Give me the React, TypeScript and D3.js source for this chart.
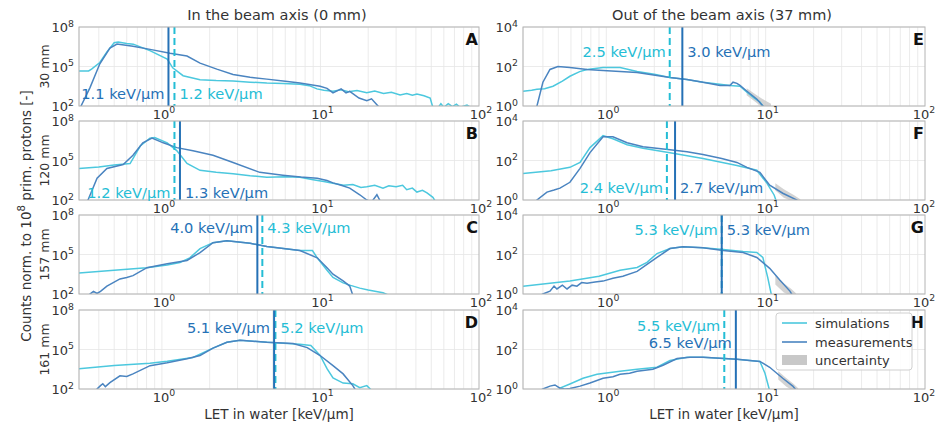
import React from "react";
import * as d3 from "d3";

type Pt = [number, number];
type Band = [number, number, number];

// ---- data -------------------------------------------------------------
// LET in keV/µm, counts normalised to 1e8 primary protons

const panelLetters = ["A", "B", "C", "D", "E", "F", "G", "H"];
const depthLabels = ["30 mm", "120 mm", "157 mm", "161 mm"];
const columnTitles = ["In the beam axis (0 mm)", "Out of the beam axis (37 mm)"];

const meanSimulated = [1.2, 1.2, 4.3, 5.2, 2.5, 2.4, 5.3, 5.5];
const meanMeasured = [1.1, 1.3, 4.0, 5.1, 3.0, 2.7, 5.3, 6.5];

const letDomain: [number, number] = [0.3, 100];
const xTickValues = [1, 10, 100];
const xTickExponents = ["0", "1", "2"];
const yDomainIn: [number, number] = [1e2, 1e8];
const yDomainOut: [number, number] = [1, 1e4];
const yTicksIn = [1e2, 1e5, 1e8];
const yTickExpIn = ["2", "5", "8"];
const yTicksOut = [1, 1e2, 1e4];
const yTickExpOut = ["0", "2", "4"];

const simA: Pt[] = [
  [0.3, 4.6e4], [0.345, 4.6e4], [0.36, 6.3e4], [0.406, 2.0e5], [0.45, 1.3e6], [0.5, 6.3e6],
  [0.53, 7.1e6], [0.6, 5.6e6], [0.66, 5.0e6], [0.84, 1.6e6], [1.08, 3.7e5], [1.17, 8.0e4],
  [1.36, 2.0e4], [1.74, 1.0e4], [2.2, 8.5e3], [2.81, 7.9e3], [3.6, 6.5e3], [4.59, 5.6e3],
  [5.8, 5.2e3], [7.42, 4.5e3], [8.5, 3.5e3], [9.5, 2.0e3], [10.5, 1.6e3], [12.0, 1.3e3],
  [13.5, 1.7e3], [15, 1.2e3], [17, 1.5e3], [19.6, 1.0e3], [22, 1.4e3], [25, 900], [28, 1.1e3],
  [31.8, 700], [35, 900], [38, 650], [40.6, 800], [45, 600], [49.2, 400], [51, 90], [55, 70],
  [57.5, 150], [60, 80], [64, 150], [68, 90], [72, 140], [76, 80], [84, 120], [90, 70],
];
const measA: Pt[] = [
  [0.303, 40], [0.309, 100], [0.352, 2.5e3], [0.406, 1.6e5], [0.47, 2.5e6], [0.521, 5.0e6],
  [0.657, 3.5e6], [0.842, 2.0e6], [1.125, 1.0e6], [1.44, 6.3e5], [1.74, 1.8e5], [2.22, 6.3e4],
  [2.81, 2.5e4], [3.6, 1.5e4], [4.59, 1.1e4], [6.0, 7.5e3], [7.42, 5.6e3], [9.95, 3.2e3],
  [11.0, 2.2e3], [12.0, 1.0e3], [13.5, 2.0e3], [14.5, 1.0e3], [15.3, 1.3e3], [17.5, 400],
  [19.6, 250], [21, 350], [23.7, 70],
];
const simB: Pt[] = [
  [0.3, 2.5e4], [0.4, 3.2e4], [0.5, 4.5e4], [0.63, 5.9e4], [0.73, 1.26e6], [0.84, 5.0e6],
  [0.9, 5.6e6], [1.08, 2.2e6], [1.24, 5.6e5], [1.44, 5.9e4], [1.74, 1.8e4], [2.2, 1.3e4],
  [2.81, 1.0e4], [3.6, 7.0e3], [4.59, 5.4e3], [6, 5.8e3], [7.42, 5.4e3], [9, 3.5e3],
  [10.5, 2.5e3], [12.0, 1.9e3], [14, 1.3e3], [16, 1.5e3], [18, 900], [19.6, 1.0e3],
  [22, 1.3e3], [24.8, 800], [27, 1.2e3], [30, 1.0e3], [33, 1.3e3], [35, 600], [38, 800],
  [40.6, 400], [44, 550], [47, 350], [51.2, 160], [53, 80],
];
const measB: Pt[] = [
  [0.33, 50], [0.342, 100], [0.39, 4.5e3], [0.45, 2.5e4], [0.57, 5.0e4], [0.657, 2.5e5],
  [0.758, 2.2e6], [0.866, 5.0e6], [1.02, 2.2e6], [1.24, 9.5e5], [1.57, 5.6e5], [2.1, 2.5e5],
  [2.81, 7.1e4], [4.14, 1.26e4], [5.79, 7.6e3], [7.5, 5.5e3], [9.54, 4.5e3], [11, 3.0e3],
  [12.0, 2.0e3], [13.5, 1.3e3], [15.3, 800], [17.7, 250], [19.6, 100], [21, 70], [22.7, 250],
  [24, 70],
];
const simC: Pt[] = [
  [0.3, 4.0e3], [0.5, 6.5e3], [0.8, 1.0e4], [1.08, 1.6e4], [1.3, 2.5e4], [1.5, 5.6e4],
  [1.74, 2.8e5], [2.1, 7.9e5], [2.57, 1.1e6], [3.6, 7.1e5], [4.59, 4.0e5], [7.42, 2.0e5],
  [8.9, 2.0e5], [9.54, 5.6e4], [11.0, 6.3e3], [12.0, 1.8e3], [13.9, 700], [15.5, 450],
  [17.7, 280], [20, 200], [24.8, 125], [26.5, 90],
];
const measC: Pt[] = [
  [0.345, 60], [0.352, 100], [0.37, 160], [0.39, 110], [0.41, 160], [0.45, 400],
  [0.544, 1.4e3], [0.6, 1.8e3], [0.657, 2.5e3], [0.805, 1.0e4], [1.08, 2.0e4], [1.44, 3.5e4],
  [1.74, 1.4e5], [2.1, 7.9e5], [2.57, 1.1e6], [3.6, 7.1e5], [4.59, 4.0e5], [7.42, 2.0e5],
  [9.54, 5.6e4], [11.0, 1.0e4], [12.0, 3.2e3], [13.9, 1.0e3], [15.3, 400], [16.0, 80],
];
const simD: Pt[] = [
  [0.3, 3.5e3], [0.5, 6.0e3], [0.84, 9.0e3], [1.08, 1.3e4], [1.57, 2.5e4], [2.1, 1.26e5],
  [2.57, 3.5e5], [3.11, 5.0e5], [4.59, 3.5e5], [7.42, 2.5e5], [8.7, 2.0e5], [9.95, 3.5e4],
  [11.0, 3.5e3], [12.0, 700], [13.9, 280], [16.0, 250], [17.7, 125], [19.6, 180], [21, 80],
];
const measD: Pt[] = [
  [0.385, 70], [0.39, 100], [0.41, 180], [0.424, 250], [0.44, 150], [0.47, 300],
  [0.544, 1.0e3], [0.6, 900], [0.657, 1.4e3], [0.842, 5.9e3], [1.08, 1.0e4], [1.44, 2.0e4],
  [1.74, 3.5e4], [2.1, 1.26e5], [2.57, 3.5e5], [3.11, 5.0e5], [4.59, 3.5e5], [6.72, 2.8e5],
  [8.25, 1.4e5], [9.95, 3.5e4], [12.0, 5.9e3], [13.9, 1.4e3], [16.0, 180], [16.8, 70],
];
const simE: Pt[] = [
  [0.3, 5.6], [0.34, 6.3], [0.367, 7.1], [0.41, 7.5], [0.463, 10], [0.53, 18], [0.591, 32],
  [0.68, 55], [0.757, 71], [0.954, 89], [1.22, 89], [1.56, 56], [2.0, 40], [2.51, 28],
  [3.2, 22], [4.04, 16], [5.0, 13], [5.97, 11], [6.9, 10], [7.63, 5.0], [8.5, 2.5], [9.2, 1.6],
  [9.8, 0.8],
];
const measE: Pt[] = [
  [0.36, 0.8], [0.367, 1], [0.4, 16], [0.443, 71], [0.497, 100], [0.591, 89], [0.757, 71],
  [0.954, 63], [1.56, 50], [2.51, 28], [3.21, 22], [4.04, 16], [5.17, 11], [5.97, 11],
  [6.24, 16], [6.6, 14], [6.9, 11], [7.63, 5.6], [8.82, 2.2], [9.61, 1.0], [10, 0.8],
];
const simF: Pt[] = [
  [0.3, 22], [0.45, 30], [0.591, 45], [0.684, 80], [0.79, 450], [0.954, 1800], [1.1, 1260],
  [1.35, 630], [1.7, 420], [2.51, 250], [4.04, 126], [6.6, 56], [8.8, 32], [10.2, 7],
  [11.3, 1.8], [11.7, 0.8],
];
const measF: Pt[] = [
  [0.36, 0.8], [0.367, 1], [0.424, 2.5], [0.47, 3.2], [0.512, 4.0], [0.591, 7.9], [0.684, 40],
  [0.79, 250], [0.954, 1600], [1.1, 1600], [1.35, 800], [1.7, 500], [2.51, 355], [3.21, 280],
  [4.04, 200], [5.3, 125], [6.6, 80], [7.63, 45], [9.2, 25], [10.6, 5.6], [12.8, 2.2],
  [15.7, 1], [16, 0.8],
];
const simG: Pt[] = [
  [0.3, 2.5], [0.591, 4.5], [0.9, 8], [1.22, 16], [1.56, 22], [1.8, 40], [2.08, 112],
  [2.51, 200], [3.03, 250], [4.04, 220], [5.41, 180], [7.22, 140], [8.8, 126], [9.6, 71],
  [10.3, 7], [10.9, 0.8],
];
const measG: Pt[] = [
  [0.38, 0.8], [0.4, 1], [0.443, 1.4], [0.47, 2.5], [0.49, 1.8], [0.53, 2.8], [0.567, 1.8],
  [0.61, 2.8], [0.654, 2.5], [0.7, 3.8], [0.757, 3.5], [0.85, 4.0], [0.954, 4.5], [1.1, 6.3],
  [1.27, 7.9], [1.56, 14], [1.8, 32], [2.08, 71], [2.51, 200], [3.03, 250], [4.04, 220],
  [5.41, 160], [7.22, 126], [8.8, 71], [10.6, 20], [12.3, 5], [14.2, 1.4], [14.8, 0.8],
];
const simH: Pt[] = [
  [0.5, 0.8], [0.512, 1.1], [0.591, 1.8], [0.714, 3.5], [0.874, 5.6], [1.22, 7.9], [1.56, 10],
  [2.08, 12.6], [2.51, 28], [3.21, 40], [4.04, 40], [6.6, 32], [9.2, 25], [9.9, 6.3],
  [10.6, 0.8],
];
const measH: Pt[] = [
  [0.38, 0.8], [0.4, 1], [0.443, 1.4], [0.476, 1.6], [0.512, 1.1], [0.55, 1], [0.591, 1.05],
  [0.684, 1.4], [0.79, 2.0], [0.954, 3.5], [1.1, 4.2], [1.22, 5.6], [1.4, 6.3], [1.56, 7.9],
  [1.96, 10], [2.27, 16], [2.78, 35], [3.35, 40], [4.04, 40], [6.6, 32], [9.2, 25],
  [10.6, 12.6], [12.8, 3.5], [14.8, 1.4], [15.7, 0.8],
];

// measurement uncertainty: [LET, lower, upper]
const bandE: Band[] = [[7.6, 3.5, 8], [8.8, 1.4, 3.5], [9.8, 0.7, 2.0], [10.8, 0.7, 1.3]];
const bandF: Band[] = [[11.5, 3.0, 7], [13, 1.3, 3.5], [15, 0.8, 1.8], [16.5, 0.8, 1.1]];
const bandG: Band[] = [[11.5, 3.0, 9], [13, 1.2, 3.5], [14.5, 0.8, 1.8], [15.5, 0.8, 1.1]];
const bandH: Band[] = [[12, 3.0, 8], [13.5, 1.3, 3.5], [15, 0.8, 1.8], [16, 0.8, 1.1]];

const simulations = [simA, simB, simC, simD, simE, simF, simG, simH];
const measurements = [measA, measB, measC, measD, measE, measF, measG, measH];
const uncertainties: Band[][] = [[], [], [], [], bandE, bandF, bandG, bandH];

// ---- layout & style -----------------------------------------------------
const W = 936;
const H = 423;
const FONT = "DejaVu Sans, Verdana, sans-serif";
const colX: [number, number][] = [[79, 479], [523, 925]];
const rowTop = [27, 121, 215, 310];
const rowH = 79;

const SIM_LINE = "#4cc8de";
const MEAS_LINE = "#4a84c0";
const SIM_MEAN = "#24bdd5";
const MEAS_MEAN = "#2571b6";
const GRID = "#e6e6e6";
const FRAME = "#b4b4b4";
const TEXT = "#333333";
const LABEL_SIZE = 14.6;
const TICK_SIZE = 13;

type Side = "left" | "right";
const labelLayout: { sim: [Side, number]; meas: [Side, number] }[] = [
  { sim: ["right", 72], meas: ["left", 72] },
  { sim: ["left", 77], meas: ["right", 77] },
  { sim: ["right", 18], meas: ["left", 18] },
  { sim: ["right", 23], meas: ["left", 23] },
  { sim: ["left", 30], meas: ["right", 30] },
  { sim: ["left", 72], meas: ["right", 72] },
  { sim: ["left", 20], meas: ["right", 20] },
  { sim: ["left", 21], meas: ["left", 38] },
];

function Pow({ x, y, exp, anchor, size }: { x: number; y: number; exp: string; anchor: string; size: number }) {
  return (
    <text x={x} y={y} textAnchor={anchor} fontSize={size} fontFamily={FONT} fill={TEXT}>
      10
      <tspan dy={-size * 0.42} fontSize={size * 0.72}>{exp}</tspan>
    </text>
  );
}

function Panel({ idx }: { idx: number }) {
  const col = idx < 4 ? 0 : 1;
  const row = idx % 4;
  const top = rowTop[row];
  const bottom = top + rowH;
  const [x0, x1] = colX[col];
  const x = d3.scaleLog().domain(letDomain).range([x0, x1]);
  const y = d3.scaleLog().domain(col === 0 ? yDomainIn : yDomainOut).range([bottom, top]);
  const yTicks = col === 0 ? yTicksIn : yTicksOut;
  const yExp = col === 0 ? yTickExpIn : yTickExpOut;

  const line = d3.line<Pt>().x((d) => x(d[0])).y((d) => y(d[1]));
  const area = d3.area<Band>().x((d) => x(d[0])).y0((d) => y(d[1])).y1((d) => y(d[2]));

  const minor: number[] = [];
  [0.1, 1, 10].forEach((dec) => {
    for (let k = 1; k <= 9; k++) {
      const v = k * dec;
      if (v > letDomain[0] && v < letDomain[1]) minor.push(v);
    }
  });

  const clipId = `clip-${idx}`;
  const xs = x(meanSimulated[idx]);
  const xm = x(meanMeasured[idx]);
  const lay = labelLayout[idx];
  const labelX = (side: Side, lx: number) => (side === "left" ? lx - 4 : lx + 5);
  const fmt = (v: number) => `${v.toFixed(1)} keV/µm`;
  // keep the outermost tick label inside the canvas
  const tickX = (v: number) => Math.min(x(v) + 2, W - 12);

  return (
    <g>
      <defs>
        <clipPath id={clipId}>
          <rect x={x0} y={top} width={x1 - x0} height={rowH} />
        </clipPath>
      </defs>
      <rect x={x0} y={top} width={x1 - x0} height={rowH} fill="#fff" />
      {minor.map((v) => (
        <line key={`gx${v}`} x1={x(v)} x2={x(v)} y1={top} y2={bottom} stroke={GRID} strokeWidth={0.8} />
      ))}
      {yTicks.map((v) => (
        <line key={`gy${v}`} x1={x0} x2={x1} y1={y(v)} y2={y(v)} stroke={GRID} strokeWidth={0.8} />
      ))}
      <g clipPath={`url(#${clipId})`}>
        {uncertainties[idx].length > 0 && (
          <path d={area(uncertainties[idx]) || ""} fill="#c8c8c8" opacity={0.8} />
        )}
        <path d={line(simulations[idx]) || ""} fill="none" stroke={SIM_LINE} strokeWidth={1.5} />
        <path d={line(measurements[idx]) || ""} fill="none" stroke={MEAS_LINE} strokeWidth={1.5} />
        <line x1={xs} x2={xs} y1={top} y2={bottom} stroke={SIM_MEAN} strokeWidth={2} strokeDasharray="7,4" />
        <line x1={xm} x2={xm} y1={top} y2={bottom} stroke={MEAS_MEAN} strokeWidth={2} />
      </g>
      <rect x={x0} y={top} width={x1 - x0} height={rowH} fill="none" stroke={FRAME} strokeWidth={1} />

      <text
        x={labelX(lay.sim[0], xs)}
        y={top + lay.sim[1]}
        textAnchor={lay.sim[0] === "left" ? "end" : "start"}
        fontSize={LABEL_SIZE}
        fontFamily={FONT}
        fill={SIM_MEAN}
      >
        {fmt(meanSimulated[idx])}
      </text>
      <text
        x={labelX(lay.meas[0], xm)}
        y={top + lay.meas[1]}
        textAnchor={lay.meas[0] === "left" ? "end" : "start"}
        fontSize={LABEL_SIZE}
        fontFamily={FONT}
        fill={MEAS_MEAN}
      >
        {fmt(meanMeasured[idx])}
      </text>

      <text x={x1 - 1} y={top + 18} textAnchor="end" fontSize={16} fontWeight="bold" fontFamily={FONT} fill="#111">
        {panelLetters[idx]}
      </text>

      {xTickValues.map((v, i) => (
        <Pow key={`xt${v}`} x={tickX(v)} y={bottom + 12.5} exp={xTickExponents[i]} anchor="middle" size={TICK_SIZE} />
      ))}
      {yTicks.map((v, i) => (
        <Pow key={`yt${v}`} x={x0 - 5} y={y(v) + 5} exp={yExp[i]} anchor="end" size={TICK_SIZE} />
      ))}
    </g>
  );
}

function Legend() {
  const lx = 776;
  const ly = 313;
  const rows = [323, 342, 360];
  return (
    <g fontFamily={FONT} fontSize={13} fill={TEXT}>
      <rect x={lx} y={ly} width={136} height={57} rx={3} fill="#fff" fillOpacity={0.85} stroke="#d0d0d0" />
      <line x1={782} x2={807} y1={rows[0]} y2={rows[0]} stroke={SIM_LINE} strokeWidth={1.6} />
      <text x={815} y={rows[0] + 4.5}>simulations</text>
      <line x1={782} x2={807} y1={rows[1]} y2={rows[1]} stroke={MEAS_LINE} strokeWidth={1.6} />
      <text x={815} y={rows[1] + 4.5}>measurements</text>
      <rect x={782} y={rows[2] - 5} width={25} height={10} fill="#c8c8c8" />
      <text x={815} y={rows[2] + 4.5}>uncertainty</text>
    </g>
  );
}

export default function App() {
  return (
    <svg
      width={W}
      height={H}
      viewBox={`0 0 ${W} ${H}`}
      style={{ display: "block", position: "absolute", left: 0, top: 0, background: "#fff" }}
    >
      <rect width={W} height={H} fill="#fff" />
      {panelLetters.map((_, i) => (
        <Panel key={i} idx={i} />
      ))}
      <Legend />
      {columnTitles.map((t, c) => (
        <text
          key={t}
          x={(colX[c][0] + colX[c][1]) / 2 - 2}
          y={20}
          textAnchor="middle"
          fontSize={14.5}
          fontFamily={FONT}
          fill={TEXT}
        >
          {t}
        </text>
      ))}
      {colX.map(([a, b], c) => (
        <text
          key={`xl${c}`}
          x={(a + b) / 2}
          y={418.5}
          textAnchor="middle"
          fontSize={13.5}
          fontFamily={FONT}
          fill={TEXT}
        >
          LET in water [keV/µm]
        </text>
      ))}
      {depthLabels.map((t, r) => (
        <text
          key={t}
          transform={`translate(44,${rowTop[r] + rowH / 2}) rotate(-90)`}
          textAnchor="middle"
          dominantBaseline="central"
          fontSize={12.5}
          fontFamily={FONT}
          fill={TEXT}
        >
          {t}
        </text>
      ))}
      <text
        transform="translate(26,216) rotate(-90)"
        textAnchor="middle"
        dominantBaseline="central"
        fontSize={13.5}
        fontFamily={FONT}
        fill={TEXT}
      >
        Counts norm. to 10<tspan dy={-5} fontSize={10}>8</tspan>
        <tspan dy={5}> prim. protons [-]</tspan>
      </text>
    </svg>
  );
}
